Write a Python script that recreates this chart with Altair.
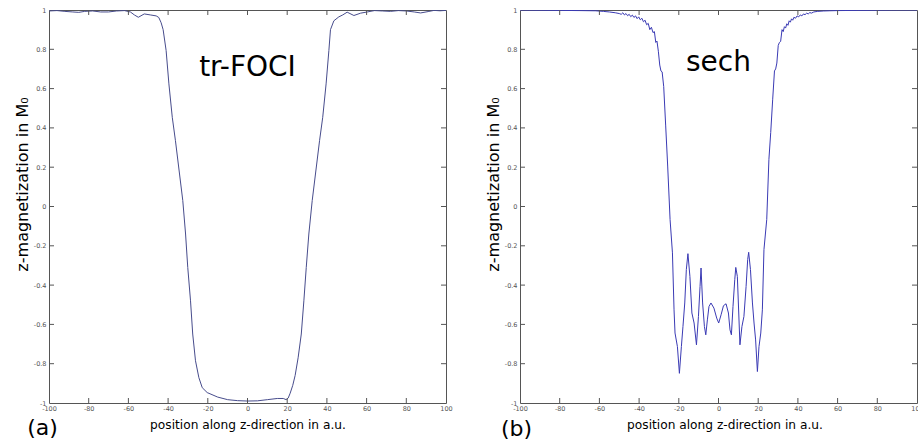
import altair as alt
import pandas as pd

# ---------------- data ----------------
foci_x = [-100, -96, -92, -88, -85, -82, -78, -74, -70, -66, -62, -59, -57, -55, -52, -49,
          -46, -44.7, -43.5, -42.5, -41, -39.6, -37.9, -36.3, -32.6, -31.2, -30.1, -28.7,
          -27.6, -26.2, -24.5, -22.8, -20.3, -15, -10, -5, 0, 5, 10, 15, 18, 19.5, 20.5,
          21.5, 22.8, 24, 25.5, 27.1, 28.4, 29.6, 30.9, 32.6, 36.3, 37.9, 39.6, 41, 41.8,
          43.5, 46, 48, 50.2, 53.6, 57, 60.3, 64, 68, 72, 76, 80, 84, 87.2, 91, 94, 97, 100]
foci_y = [0.995, 0.997, 0.993, 0.99, 0.988, 0.993, 0.995, 0.99, 0.99, 0.995, 0.997, 0.99,
          0.975, 0.963, 0.98, 0.975, 0.97, 0.962, 0.935, 0.9, 0.794, 0.624, 0.454, 0.335,
          0.03, -0.14, -0.31, -0.48, -0.649, -0.785, -0.871, -0.922, -0.947, -0.97, -0.983,
          -0.988, -0.99, -0.989, -0.983, -0.977, -0.977, -0.983, -0.975, -0.95, -0.91,
          -0.86, -0.77, -0.649, -0.48, -0.31, -0.14, 0.03, 0.335, 0.454, 0.624, 0.794, 0.9,
          0.945, 0.965, 0.975, 0.989, 0.972, 0.984, 0.99, 0.997, 0.995, 0.993, 0.997, 0.995,
          0.99, 0.985, 0.992, 0.998, 0.996, 0.998]

sech_x = [-100, -90, -80, -70, -62, -58, -55, -52, -50, -49, -48.2, -47.4, -46.6, -45.8,
          -45, -44.2, -43.4, -42.6, -41.8, -41, -40.2, -39.4, -38.6, -37.8, -37, -36.2,
          -35.4, -34.6, -33.8, -33, -32.3, -31.6, -31, -30.3, -29.6, -29, -28.4, -27.6,
          -26.6, -25.6, -24.4, -23.2, -22.4, -21.9, -20.7, -19.7, -18.7, -17.9, -17.0,
          -16.2, -15.4, -14.4, -13.4, -12.3, -11.1, -10.1, -9.3, -8.8, -8.0, -7.1, -6.4,
          -5.6, -4.8, -3.8, -2.3, -0.9, 0.1, 1.3, 2.5, 3.8, 5.0, 5.8, 6.5, 7.3, 8.2, 8.7,
          9.5, 10.2, 10.8, 11.8, 12.8, 13.9, 14.7, 15.2, 16.1, 17.1, 17.9, 18.7, 19.6, 20.4,
          21.3, 22.1, 22.9, 24.3, 25.4, 26.3, 27.3, 28.2, 28.8, 29.4, 30.1, 30.7, 31.3, 32,
          32.6, 33.2, 33.8, 34.4, 35, 35.6, 36.2, 36.8, 37.4, 38, 38.8, 39.6, 40.4, 41.2,
          42, 42.8, 43.6, 44.4, 45.2, 46, 46.8, 48, 50, 53, 56, 60, 70, 80, 90, 100]
sech_y = [1.0, 0.999, 0.998, 0.997, 0.996, 0.993, 0.99, 0.986, 0.982, 0.978, 0.986, 0.975,
          0.982, 0.971, 0.978, 0.966, 0.974, 0.962, 0.97, 0.956, 0.965, 0.95, 0.958, 0.94,
          0.948, 0.925, 0.932, 0.9, 0.912, 0.885, 0.89, 0.835, 0.842, 0.79, 0.72, 0.69,
          0.685, 0.61, 0.41, 0.206, -0.066, -0.236, -0.526, -0.644, -0.713, -0.849, -0.713,
          -0.611, -0.491, -0.321, -0.24, -0.356, -0.542, -0.593, -0.704, -0.56, -0.407,
          -0.313, -0.491, -0.611, -0.653, -0.577, -0.509, -0.491, -0.517, -0.568, -0.593,
          -0.551, -0.505, -0.495, -0.542, -0.628, -0.653, -0.509, -0.372, -0.31, -0.356,
          -0.542, -0.704, -0.611, -0.56, -0.407, -0.27, -0.233, -0.321, -0.491, -0.593,
          -0.679, -0.84, -0.713, -0.644, -0.526, -0.219, -0.066, 0.24, 0.376, 0.546, 0.69,
          0.7, 0.73, 0.82, 0.835, 0.84, 0.9, 0.89, 0.915, 0.908, 0.93, 0.922, 0.945, 0.938,
          0.955, 0.948, 0.963, 0.958, 0.97, 0.965, 0.975, 0.97, 0.98, 0.976, 0.984, 0.98,
          0.987, 0.984, 0.99, 0.993, 0.995, 0.996, 0.997, 0.998, 0.999, 1.0, 1.0]

x_ticks = [-100, -80, -60, -40, -20, 0, 20, 40, 60, 80, 100]
y_ticks = [-1, -0.8, -0.6, -0.4, -0.2, 0, 0.2, 0.4, 0.6, 0.8, 1]

x_title = "position along z-direction in a.u."
y_title = "z-magnetization in M\u2080"

W, H = 397, 393
FONT = "DejaVu Sans"
FRAME = "#555555"


def panel(xs, ys, color, name, name_y, tag, tag_x, tag_y, xtitle_shift, anchor_x):
    xscale = alt.Scale(domain=[-100, 100], nice=False, zero=False)
    yscale = alt.Scale(domain=[-1, 1], nice=False, zero=False)
    x_axis = alt.Axis(values=x_ticks, title=x_title, labelExpr="'' + datum.value",
                      titleX=W / 2 + xtitle_shift, titleY=25,
                      titleBaseline="alphabetic", titleFontSize=12.2,
                      labelPadding=2, labelFlush=False)
    y_axis = alt.Axis(values=y_ticks, title=y_title, labelExpr="'' + datum.value",
                      titleX=-19, titleY=174, titleAngle=270,
                      titleAlign="center", titleBaseline="bottom",
                      titleFontSize=16, labelPadding=3)

    def X(f):
        return alt.X(f, scale=xscale, axis=x_axis, title=x_title)

    def Y(f):
        return alt.Y(f, scale=yscale, axis=y_axis, title=y_title)

    df = pd.DataFrame({"x": xs, "y": ys})
    line = alt.Chart(df).mark_line(color=color, strokeWidth=1, clip=True).encode(
        x=X("x:Q"), y=Y("y:Q"))
    xt = pd.DataFrame({"x": x_ticks[1:-1]})
    yt = pd.DataFrame({"y": y_ticks[1:-1]})
    tick_style = dict(color=FRAME, strokeWidth=1)
    bottom = alt.Chart(xt).mark_rule(**tick_style).encode(
        x=X("x:Q"), y=alt.value(H), y2=alt.value(H - 5))
    top = alt.Chart(xt).mark_rule(**tick_style).encode(
        x=X("x:Q"), y=alt.value(0), y2=alt.value(5))
    left = alt.Chart(yt).mark_rule(**tick_style).encode(
        y=Y("y:Q"), x=alt.value(0), x2=alt.value(5))
    right = alt.Chart(yt).mark_rule(**tick_style).encode(
        y=Y("y:Q"), x=alt.value(W), x2=alt.value(W - 5))
    label_df = pd.DataFrame({"x": [0], "y": [name_y], "t": [name]})
    label = alt.Chart(label_df).mark_text(
        font=FONT, fontSize=28, color="black", align="center", baseline="alphabetic"
    ).encode(x=X("x:Q"), y=Y("y:Q"), text="t:N")
    tag_df = pd.DataFrame({"t": [tag]})
    tag_mark = alt.Chart(tag_df).mark_text(
        font=FONT, fontSize=22, color="black", align="center", baseline="alphabetic"
    ).encode(x=alt.value(tag_x), y=alt.value(tag_y), text="t:N")
    # invisible anchor fixing the outer margin of the page
    anchor = alt.Chart(tag_df).mark_rule(strokeWidth=0.01, opacity=0).encode(
        x=alt.value(anchor_x), x2=alt.value(0), y=alt.value(-9.5))
    return alt.layer(line, bottom, top, left, right, label, tag_mark, anchor).properties(
        width=W, height=H)


left_panel = panel(foci_x, foci_y, "#474c8c", "tr-FOCI", 0.666, "(a)", -6.5, 424.5, 0, -48.5)
right_panel = panel(sech_x, sech_y, "#3a3ab4", "sech", 0.69, "(b)", -3.5, 426, 6, 0)

chart = alt.hconcat(left_panel, right_panel, spacing=74, bounds="flush").properties(
    padding={"left": 0, "top": 0, "right": -6, "bottom": 0},
    background="white",
).configure_view(stroke=FRAME, strokeWidth=1).configure_axis(
    domain=False, ticks=False, grid=False,
    labelFont=FONT, labelFontSize=6.5, labelColor="#555555",
    titleFont=FONT, titleFontWeight="normal", titleColor="black",
)

chart.save("out.html", embed_options={"renderer": "svg", "actions": False})
